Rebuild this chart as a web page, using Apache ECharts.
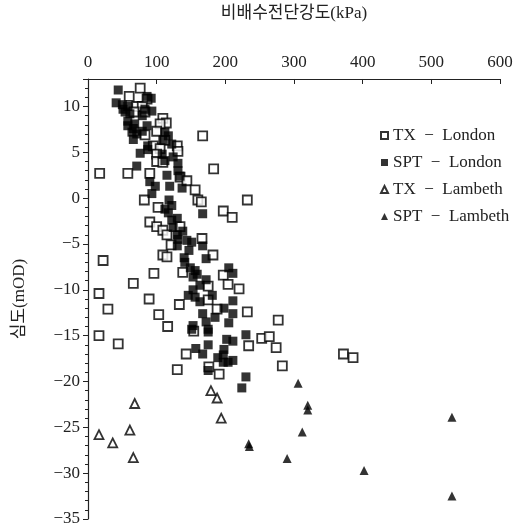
<!DOCTYPE html>
<html>
<head>
<meta charset="utf-8">
<script src="https://cdn.jsdelivr.net/npm/echarts@6/dist/echarts.min.js"></script>
<style>
  html, body { margin: 0; padding: 0; background: #fff; }
  #chart { width: 518px; height: 529px; }
</style>
</head>
<body>
<div id="chart"></div>
<script>
// 비배수전단강도 (kPa) vs 심도 (mOD)
const seriesNames = ['TX\u2002\u2212\u2002London', 'SPT\u2002\u2212\u2002London', 'TX\u2002\u2212\u2002Lambeth', 'SPT\u2002\u2212\u2002Lambeth']

const txLondon = [
  [76, 12.0], [60, 11.1], [86, 10.8], [71, 10.0], [79, 10.0], [67, 9.4], [83, 9.4], [109, 8.7],
  [114, 8.2], [105, 8.1], [100, 7.3], [83, 6.9], [167, 6.8], [112, 6.3], [95, 5.7], [105, 5.4],
  [130, 5.7], [131, 5.1], [100, 4.8], [100, 4.0], [109, 3.9], [183, 3.2], [17, 2.7], [58, 2.7],
  [90, 2.7], [134, 2.3], [144, 1.9], [156, 0.9], [160, -0.2], [165, -0.4], [232, -0.2], [82, -0.2],
  [102, -1.0], [197, -1.4], [210, -2.1], [90, -2.6], [100, -3.1], [109, -3.5], [115, -4.0], [134, -3.1],
  [166, -4.4], [121, -5.1], [109, -6.2], [115, -6.4], [182, -6.2], [22, -6.8], [96, -8.2], [138, -8.1],
  [197, -8.4], [66, -9.3], [204, -9.4], [220, -9.9], [16, -10.4], [89, -11.0], [133, -11.6], [175, -11.1],
  [188, -12.1], [29, -12.1], [103, -12.7], [232, -12.4], [116, -14.0], [277, -13.3], [154, -14.5], [16, -15.0],
  [44, -15.9], [253, -15.3], [264, -15.1], [234, -16.1], [274, -16.3], [143, -17.0], [372, -17.0], [386, -17.4],
  [176, -18.4], [283, -18.3], [130, -18.7], [191, -19.2], [175, -9.6]
]

const sptLondon = [
  [44, 11.8], [86, 11.1], [92, 10.9], [41, 10.4], [50, 10.2], [58, 10.0], [51, 9.7], [54, 9.4],
  [61, 9.2], [83, 9.7], [93, 9.5], [79, 9.0], [58, 8.4], [58, 7.9], [68, 8.1], [66, 7.6],
  [86, 7.9], [79, 7.3], [64, 7.2], [71, 7.0], [112, 7.2], [117, 6.8], [66, 6.4], [109, 6.3],
  [122, 5.9], [87, 5.7], [76, 4.9], [87, 5.3], [108, 4.8], [112, 4.1], [124, 4.5], [131, 3.8],
  [71, 3.5], [131, 3.0], [115, 2.5], [134, 2.4], [90, 1.8], [98, 1.3], [119, 1.3], [137, 1.1],
  [93, 0.5], [118, -0.2], [122, -0.8], [112, -1.2], [117, -1.6], [167, -1.7], [130, -2.2], [122, -2.4],
  [124, -3.2], [130, -4.0], [138, -3.6], [131, -4.5], [144, -4.6], [151, -4.8], [167, -5.2], [130, -5.2],
  [147, -5.7], [172, -6.6], [140, -6.5], [141, -7.0], [149, -7.6], [156, -7.9], [159, -8.3], [153, -8.6],
  [205, -7.6], [211, -8.2], [172, -8.9], [163, -9.5], [153, -10.0], [146, -10.6], [156, -10.8], [181, -10.6],
  [163, -11.3], [211, -11.2], [198, -12.0], [167, -12.6], [211, -12.6], [185, -13.0], [172, -13.5], [205, -13.6],
  [153, -13.9], [175, -14.3], [151, -14.3], [175, -14.6], [230, -14.9], [202, -15.4], [211, -15.6], [175, -16.0],
  [157, -16.4], [167, -17.0], [198, -16.5], [197, -17.1], [189, -17.4], [197, -17.9], [204, -17.9], [211, -17.7],
  [175, -18.8], [230, -19.5], [224, -20.7]
]

const txLambeth = [
  [16, -25.8], [36, -26.7], [61, -25.3], [66, -28.3], [68, -22.4], [179, -21.0], [188, -21.8], [194, -24.0]
]

const sptLambeth = [
  [306, -20.2], [320, -22.6], [320, -23.1], [312, -25.5], [234, -26.8], [235, -27.1], [290, -28.4],
  [402, -29.7], [530, -23.9], [530, -32.5]
]

const FONT = "'Liberation Serif', 'Noto Sans CJK KR', serif"
const chart = echarts.init(document.getElementById('chart'))

const makeSeries = (name, data, symbol, filled) => ({
  name,
  type: 'scatter',
  data,
  symbol,
  symbolSize: 9,
  itemStyle: {
    color: filled ? '#000' : '#fff',
    borderColor: '#000',
    borderWidth: filled ? 0 : 1.8
  },
  emphasis: { disabled: true }
})

chart.setOption({
  animation: false,
  backgroundColor: '#fff',
  textStyle: { fontFamily: FONT, color: '#222' },
  grid: { left: 88, right: 18, top: 76, bottom: 10, containLabel: false },
  legend: {
    orient: 'vertical',
    left: 375,
    top: 117,
    itemWidth: 7,
    itemHeight: 7,
    itemGap: 0,
    data: seriesNames,
    selectedMode: false,
    textStyle: { fontFamily: FONT, fontSize: 17, color: '#222', lineHeight: 27 }
  },
  xAxis: {
    type: 'value',
    position: 'top',
    min: 0,
    max: 600,
    interval: 100,
    name: '비배수전단강도(kPa)',
    nameLocation: 'middle',
    nameGap: 57,
    nameTextStyle: { fontFamily: FONT, fontSize: 17, color: '#222' },
    axisLine: { show: true, onZero: false, lineStyle: { color: '#222', width: 1.2 } },
    axisTick: { show: true, inside: true, length: 5, lineStyle: { color: '#222' } },
    axisLabel: { fontFamily: FONT, fontSize: 17, color: '#222', margin: 8 },
    splitLine: { show: false }
  },
  yAxis: {
    type: 'value',
    min: -35,
    max: 13,
    interval: 5,
    name: '심도(mOD)',
    nameLocation: 'middle',
    nameRotate: 90,
    nameGap: 60,
    nameTextStyle: { fontFamily: FONT, fontSize: 17, color: '#222' },
    axisLine: { show: true, onZero: false, lineStyle: { color: '#222', width: 1.2 } },
    axisTick: { show: true, length: 5, lineStyle: { color: '#222' } },
    minorTick: { show: true, splitNumber: 5, length: 3, lineStyle: { color: '#222' } },
    axisLabel: {
      fontFamily: FONT,
      fontSize: 17,
      color: '#222',
      margin: 8,
      formatter: v => (v % 5 !== 0 ? '' : v < 0 ? '\u2212' + Math.abs(v) : String(v))
    },
    splitLine: { show: false }
  },
  series: [
    makeSeries(seriesNames[0], txLondon, 'rect', false),
    makeSeries(seriesNames[1], sptLondon, 'rect', true),
    makeSeries(seriesNames[2], txLambeth, 'triangle', false),
    makeSeries(seriesNames[3], sptLambeth, 'triangle', true)
  ]
})
</script>
</body>
</html>
